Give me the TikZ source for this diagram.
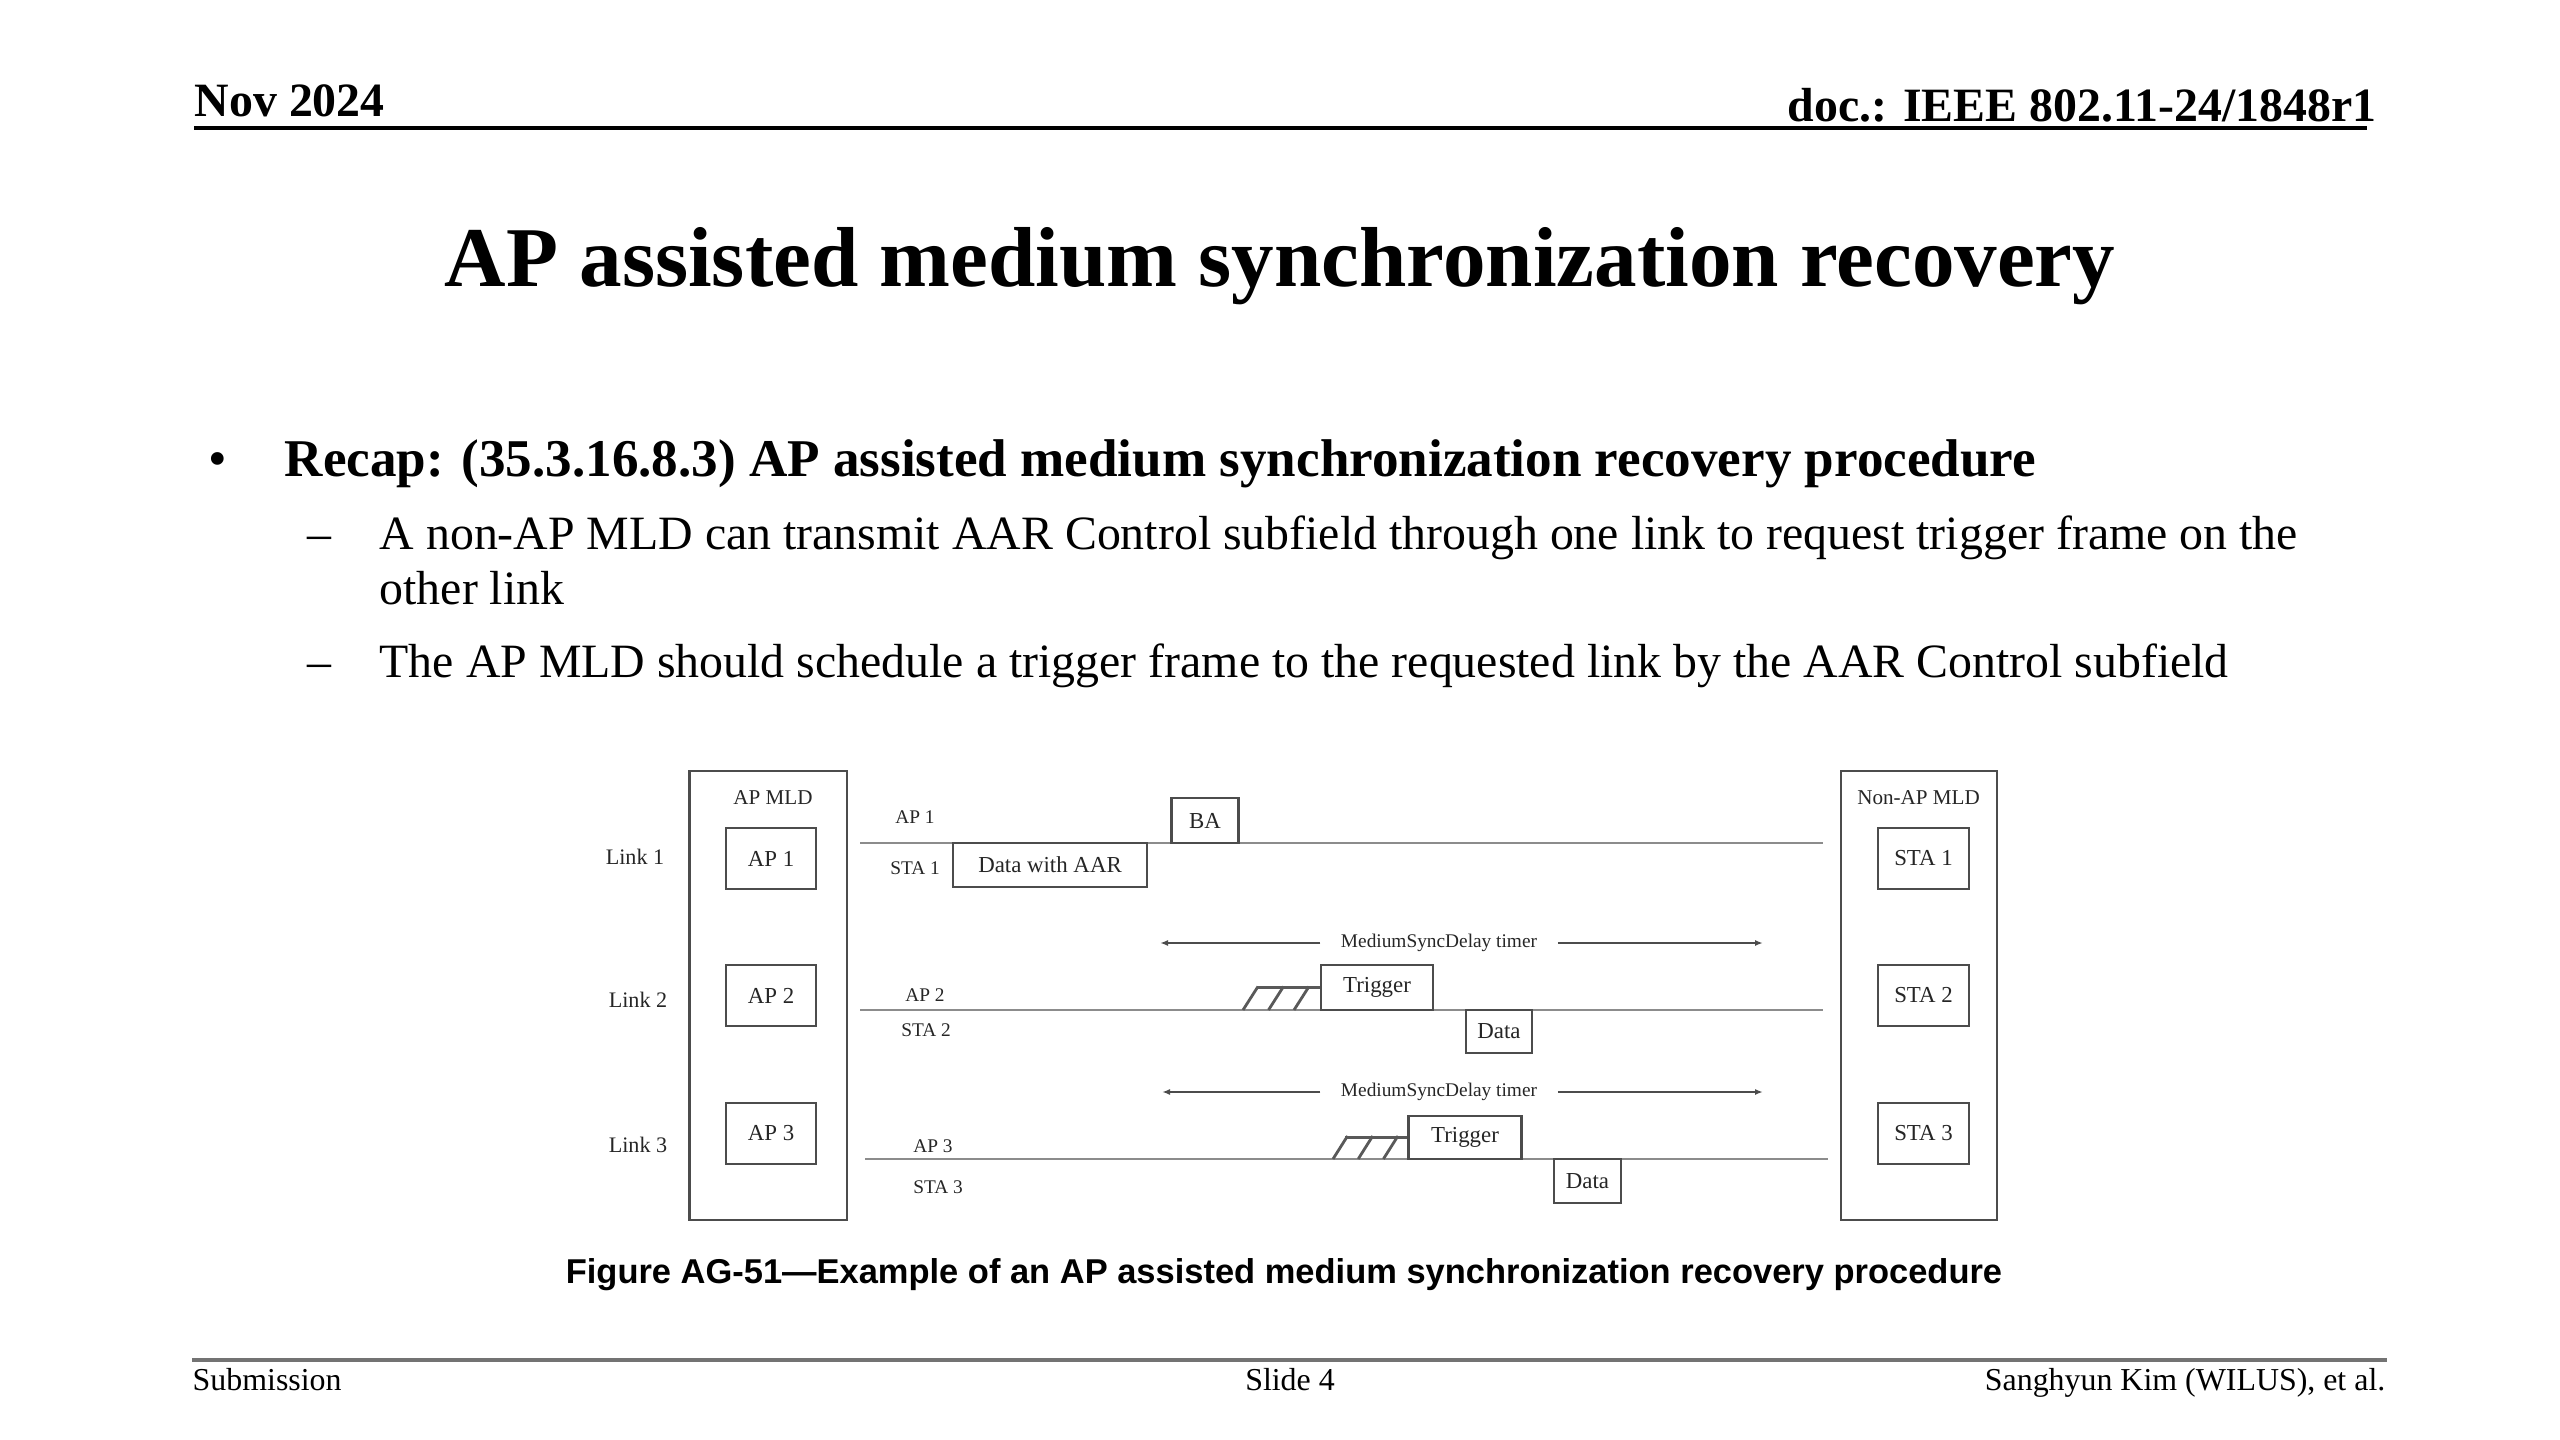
\documentclass[tikz,border=0pt]{standalone}
\usepackage{fontspec}
\setmainfont{Liberation Serif}
\newfontfamily\capfont{Liberation Sans}
\usetikzlibrary{arrows.meta}
\newcommand{\fsz}[1]{\fontsize{#1}{#1}\selectfont}

\begin{document}
\begin{tikzpicture}[x=0.01cm,y=-0.01cm]
	 \tikzstyle{txt}=[inner sep=0pt,anchor=base west]
	 \tikzstyle{frame}=[draw=black!70,line width=0.6pt,inner sep=0pt,text=black!85,font=\fsz{6.5}]
	 \tikzstyle{lbl}=[inner sep=0pt,text=black!85,font=\fsz{5.5}]
	 \tikzstyle{link}=[draw=black!45,line width=0.8pt]
	 \tikzstyle{timer}=[draw=black!70,line width=0.5pt,-{Latex[length=0.8mm,width=0.6mm]}]
	 \useasboundingbox (0,0) rectangle (2560,1440);
	 \fill[white] (0,0) rectangle (2560,1440);
	 % header and title
	 \node[txt,font=\fsz{13.6}\bfseries] (date) at (194,117) {Nov 2024};
	 \node[txt,anchor=base east,font=\fsz{13.6}\bfseries] (doc) at (2377,122) {doc.: IEEE 802.11-24/1848r1};
	 \draw[line width=1.3pt] (194,128) -- (2367,128);
	 \node[inner sep=0pt,anchor=base,font=\fsz{24.2}\bfseries] (title) at (1280,287) {AP assisted medium synchronization recovery};
	 % bullets
	 \node[txt,font=\fsz{15.1}] (bul1) at (208,477) {•};
	 \node[txt,font=\fsz{15.1}\bfseries] (recap) at (284,477) {Recap: (35.3.16.8.3) AP assisted medium synchronization recovery procedure};
	 \node[txt,font=\fsz{13.6}] (dash1) at (307,550) {–};
	 \node[txt,font=\fsz{13.6}] (sub1a) at (379,550) {A non-AP MLD can transmit AAR Control subfield through one link to request trigger frame on the};
	 \node[txt,font=\fsz{13.6}] (sub1b) at (379,605) {other link};
	 \node[txt,font=\fsz{13.6}] (dash2) at (307,678) {–};
	 \node[txt,font=\fsz{13.6}] (sub2) at (379,678) {The AP MLD should schedule a trigger frame to the requested link by the AAR Control subfield};
	 % MLD boxes
	 \node[frame,minimum width=1.57cm,minimum height=4.49cm] (apmld) at (768,995.5) {};
	 \node[frame,minimum width=1.565cm,minimum height=4.49cm] (stamld) at (1919,995.5) {};
	 \node[lbl,font=\fsz{6}] (apmldl) at (773,798) {AP MLD};
	 \node[lbl,font=\fsz{6}] (stamldl) at (1918.5,798) {Non-AP MLD};
	 \foreach \i/\y in {1/858.5,2/995.5,3/1133.5} {
	 	 \node[frame,minimum width=0.906cm,minimum height=0.61cm] (ap\i) at (771,\y) {AP \i};
	 	 \node[frame,minimum width=0.91cm,minimum height=0.61cm] (sta\i) at (1923.5,\y) {STA \i};
	 }
	 \node[lbl,font=\fsz{6.3}] (link1) at (635,857) {Link 1};
	 \node[lbl,font=\fsz{6.3}] (link2) at (638,1000) {Link 2};
	 \node[lbl,font=\fsz{6.3}] (link3) at (638,1145) {Link 3};
	 % links
	 \coordinate (l1s) at (860,843);  \coordinate (l1e) at (1823,843);
	 \coordinate (l2s) at (860,1010); \coordinate (l2e) at (1823,1010);
	 \coordinate (l3s) at (865,1159); \coordinate (l3e) at (1828,1159);
	 \draw[link] (l1s) -- (l1e);
	 \draw[link] (l2s) -- (l2e);
	 \draw[link] (l3s) -- (l3e);
	 \node[lbl] (ap1l) at (915,817) {AP 1};
	 \node[lbl] (sta1l) at (915,868) {STA 1};
	 \node[lbl] (ap2l) at (925,995) {AP 2};
	 \node[lbl] (sta2l) at (926,1030) {STA 2};
	 \node[lbl] (ap3l) at (933,1146) {AP 3};
	 \node[lbl] (sta3l) at (938,1187) {STA 3};
	 % frames
	 \node[frame,minimum width=1.94cm,minimum height=0.44cm] (aar) at (1050,865) {Data with AAR};
	 \node[frame,minimum width=0.67cm,minimum height=0.45cm] (ba) at (1205,820.5) {BA};
	 \node[frame,minimum width=1.116cm,minimum height=0.45cm] (trig2) at (1377,987.5) {Trigger};
	 \node[frame,minimum width=0.664cm,minimum height=0.43cm] (data2) at (1499,1031.5) {Data};
	 \node[frame,minimum width=1.129cm,minimum height=0.43cm] (trig3) at (1465,1137.5) {Trigger};
	 \node[frame,minimum width=0.67cm,minimum height=0.44cm] (data3) at (1587.5,1181) {Data};
	 % backoff
	 \draw[link,draw=black!65] (trig2.west) -- ++(-63,0);
	 \foreach \s in {0,25.5,51} \draw[link,draw=black!65] (1243+\s,1010) -- ++(15,-23.5);
	 \draw[link,draw=black!65] (trig3.west) -- ++(-62,0);
	 \foreach \s in {0,25.2,50.4} \draw[link,draw=black!65] (1333+\s,1159) -- ++(14.5,-23);
	 % MediumSyncDelay timers
	 \node[lbl,font=\fsz{5.5},inner xsep=0.2cm] (timer1) at (1439,943) {MediumSyncDelay timer};
	 \node[lbl,font=\fsz{5.5},inner xsep=0.2cm] (timer2) at (1439,1092) {MediumSyncDelay timer};
	 \coordinate (t1l) at (1160,943);  \coordinate (t1r) at (1763,943);
	 \coordinate (t2l) at (1162,1092); \coordinate (t2r) at (1763,1092);
	 \draw[timer] (timer1.west) -- (t1l);
	 \draw[timer] (timer1.east) -- (t1r);
	 \draw[timer] (timer2.west) -- (t2l);
	 \draw[timer] (timer2.east) -- (t2r);
	 % caption and footer
	 \node[inner sep=0pt,anchor=base,font=\capfont\bfseries\fsz{9.8}] (caption) at (1284,1283) {Figure AG-51—Example of an AP assisted medium synchronization recovery procedure};
	 \draw[black!55,line width=1.3pt] (192,1360) -- (2387,1360);
	 \node[txt,font=\fsz{9.07}] (fsub) at (192,1390) {Submission};
	 \node[inner sep=0pt,anchor=base,font=\fsz{9.07}] (fslide) at (1290,1390) {Slide 4};
	 \node[txt,anchor=base east,font=\fsz{9.07}] (fauth) at (2386,1390) {Sanghyun Kim (WILUS), et al.};
\end{tikzpicture}
\end{document}
